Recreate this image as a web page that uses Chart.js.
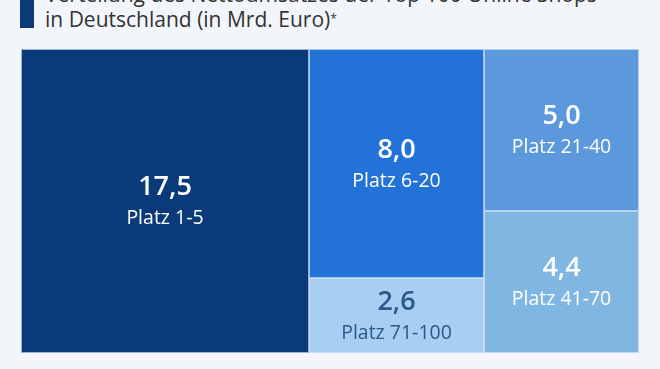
<!DOCTYPE html>
<html lang="de">
<head>
<meta charset="utf-8">
<title>Nettoumsatz Top 100 Online Shops</title>
<script src="https://cdn.jsdelivr.net/npm/chart.js@4.4.1/dist/chart.umd.min.js"></script>
<style>
  html, body { margin: 0; padding: 0; background: #f2f6fa; }
  body { width: 660px; height: 369px; position: relative; overflow: hidden; font-family: "Open Sans", sans-serif; }
  .title-bar { position: absolute; left: 20px; top: 0; width: 14px; height: 28px; background: #0b3a78; }
  .title { position: absolute; left: 45px; top: -18px; font-size: 21px; line-height: 25px; color: #333; white-space: nowrap; }
  .title sup { font-size: 12px; vertical-align: top; position: relative; top: -1px; }
  #wrap { position: absolute; left: 0; top: 0; width: 660px; height: 369px; }
</style>
</head>
<body>
<div class="title-bar"></div>
<div class="title">Verteilung des Nettoumsatzes der Top 100 Online Shops<br>in Deutschland (in Mrd. Euro)<sup>*</sup></div>
<div id="wrap"><canvas id="treemap"></canvas></div>

<script>
// ── Data ────────────────────────────────────────────────────
const categories = ["Platz 1-5", "Platz 6-20", "Platz 21-40", "Platz 41-70", "Platz 71-100"];
const values     = [17.5, 8.0, 5.0, 4.4, 2.6];
// which tiles share a column (left to right, top to bottom)
const columns    = [[0], [1, 4], [2, 3]];

const fillColors = ["#0b3a7a", "#2372d8", "#5b99dc", "#7fb7e2", "#a6cff3"];
const textColors = ["#ffffff", "#ffffff", "#ffffff", "#ffffff", "#2d5789"];

const total = values.reduce((a, b) => a + b, 0);
const fmt = (v) => v.toLocaleString("de-DE", { minimumFractionDigits: 1, maximumFractionDigits: 1 });

// Build tiles in data units: x = share of the total, y = share within the column
function buildTiles() {
  const tiles = [];
  let x0 = 0;
  columns.forEach((col) => {
    const colSum = col.reduce((s, i) => s + values[i], 0);
    let y0 = 0;
    col.forEach((i) => {
      const y1 = y0 + values[i] / colSum;
      tiles.push({ i, x0, x1: x0 + colSum, y0, y1 });
      y0 = y1;
    });
    x0 += colSum;
  });
  return tiles;
}

// ── Treemap drawing via the chart's own scales ──────────────
const treemapPlugin = {
  id: "treemapTiles",
  beforeDatasetsDraw(chart) {
    const { ctx, scales: { x, y } } = chart;
    ctx.save();
    buildTiles().forEach((t) => {
      const left   = Math.round(x.getPixelForValue(t.x0));
      const right  = Math.round(x.getPixelForValue(t.x1));
      const top    = Math.round(y.getPixelForValue(t.y0));
      const bottom = Math.round(y.getPixelForValue(t.y1));

      ctx.fillStyle = fillColors[t.i];
      ctx.fillRect(left, top, right - left, bottom - top);
      ctx.strokeStyle = "rgba(215,230,246,0.7)";
      ctx.lineWidth = 1;
      ctx.strokeRect(left + 0.5, top + 0.5, right - left - 1, bottom - top - 1);

      const cx = (left + right) / 2;
      const cy = (top + bottom) / 2;
      ctx.fillStyle = textColors[t.i];
      ctx.textAlign = "center";
      ctx.textBaseline = "alphabetic";
      ctx.font = "600 27px 'Open Sans'";
      ctx.fillText(fmt(values[t.i]), cx, cy - 6);
      ctx.font = "19.5px 'Open Sans'";
      ctx.fillText(categories[t.i], cx, cy + 23);
    });
    ctx.restore();
  }
};

new Chart(document.getElementById("treemap"), {
  type: "scatter",
  data: { datasets: [] },
  options: {
    responsive: true,
    maintainAspectRatio: false,
    animation: false,
    layout: { padding: { left: 21, right: 21, top: 49, bottom: 16 } },
    plugins: { legend: { display: false }, tooltip: { enabled: false } },
    scales: {
      x: { type: "linear", min: 0, max: total, display: false },
      y: { type: "linear", min: 0, max: 1, reverse: true, display: false }
    }
  },
  plugins: [treemapPlugin]
});
</script>
</body>
</html>
